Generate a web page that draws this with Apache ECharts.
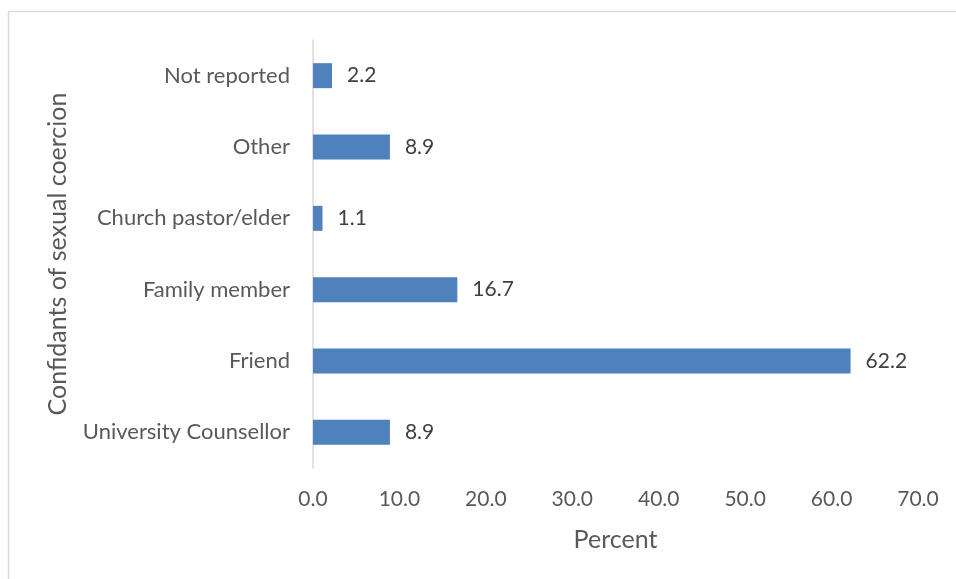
<!DOCTYPE html>
<html>
<head>
<meta charset="utf-8">
<script src="https://cdn.jsdelivr.net/npm/echarts@6/dist/echarts.min.js"></script>
<style>
  html, body { margin: 0; padding: 0; background: #fff; }
  #chart { width: 956px; height: 579px; }
</style>
</head>
<body>
<div id="chart"></div>
<script>
// Confidants of sexual coercion, percent of respondents
const categories = ['University Counsellor', 'Friend', 'Family member', 'Church pastor/elder', 'Other', 'Not reported'];
const percents = [8.9, 62.2, 16.7, 1.1, 8.9, 2.2];
const xTicks = [0, 10, 20, 30, 40, 50, 60, 70];

const FONT = 'Lato';
const chart = echarts.init(document.getElementById('chart'));

chart.setOption({
  animation: false,
  textStyle: { fontFamily: FONT },
  graphic: [{
    type: 'rect',
    shape: { x: 8.5, y: 11.5, width: 1000, height: 1000 },
    style: { fill: 'none', stroke: '#d9d9d9', lineWidth: 1.5 },
    silent: true
  }],
  grid: { left: 313, right: 38, top: 40, bottom: 111, containLabel: false },
  xAxis: {
    type: 'value',
    min: xTicks[0],
    max: xTicks[xTicks.length - 1],
    interval: 10,
    name: 'Percent',
    nameLocation: 'middle',
    nameGap: 59,
    nameTextStyle: { color: '#595959', fontSize: 25, fontFamily: FONT },
    axisLine: { show: false },
    axisTick: { show: false },
    splitLine: { show: false },
    axisLabel: {
      color: '#595959', fontSize: 21, fontFamily: FONT, margin: 21,
      formatter: v => v.toFixed(1)
    }
  },
  yAxis: {
    type: 'category',
    data: categories,
    name: 'Confidants of sexual coercion',
    nameLocation: 'middle',
    nameGap: 243,
    nameRotate: 90,
    nameTextStyle: { color: '#595959', fontSize: 25, fontFamily: FONT },
    axisLine: { show: true, lineStyle: { color: '#d9d9d9', width: 1.5 } },
    axisTick: { show: false },
    axisLabel: { color: '#595959', fontSize: 22, fontFamily: FONT, margin: 23 }
  },
  series: [{
    type: 'bar',
    data: percents,
    barWidth: 25,
    itemStyle: { color: '#4f81bd' },
    label: {
      show: true,
      position: 'right',
      distance: 15,
      color: '#404040',
      fontSize: 21,
      fontFamily: FONT,
      formatter: p => p.value.toFixed(1)
    }
  }]
});
</script>
</body>
</html>
